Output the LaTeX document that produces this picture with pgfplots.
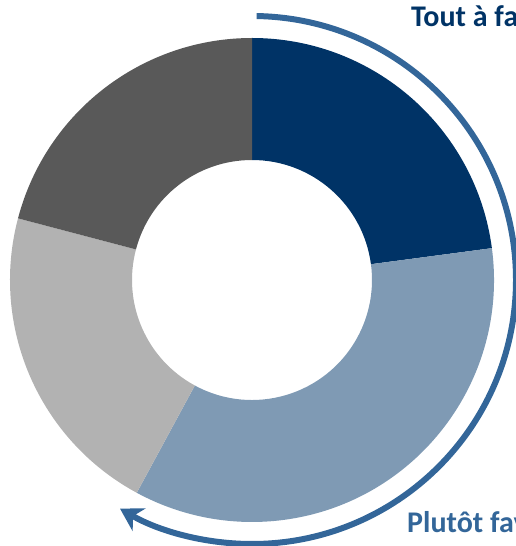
\documentclass[border=0pt]{standalone}
\usepackage{pgfplots}
\usepackage{pgfplotstable}
\pgfplotsset{compat=1.18}
\usepackage{fontspec}
\setmainfont{Carlito}
\usetikzlibrary{arrows.meta}
\definecolor{c1}{HTML}{003366}
\definecolor{c2}{HTML}{7F9AB4}
\definecolor{c3}{HTML}{B2B2B2}
\definecolor{c4}{HTML}{595959}
\definecolor{arr}{HTML}{336699}
\pgfplotstableread{
label value color
A 22.9 c1
B 35.0 c2
C 21.2 c3
D 20.9 c4
}\piedata
\begin{document}
\begin{tikzpicture}
\begin{axis}[x=1pt,y=1pt,xmin=0,xmax=515,ymin=0,ymax=546,hide axis,clip=false]
\pgfplotstablegetrowsof{\piedata}
\pgfmathtruncatemacro\N{\pgfplotsretval-1}
\def\cum{0}
\pgfplotsforeachungrouped \i in {0,...,\N}{%
  \pgfplotstablegetelem{\i}{value}\of\piedata \let\v\pgfplotsretval
  \pgfplotstablegetelem{\i}{color}\of\piedata \let\c\pgfplotsretval
  \pgfmathsetmacro\a{90-3.6*\cum}%
  \pgfmathsetmacro\b{90-3.6*(\cum+\v)}%
  \edef\temp{\noexpand\fill[\c,shift={(axis cs:252,266)}] (\a:242pt) arc[start angle=\a, end angle=\b, radius=242pt] -- (\b:120pt) arc[start angle=\b, end angle=\a, radius=120pt] -- cycle;}%
  \temp
  \pgfmathsetmacro\cum{\cum+\v}%
}
\draw[arr,line width=6pt,-{Stealth[length=22pt,width=26pt,inset=7pt]},shift={(axis cs:252,266)}] (89:264pt) arc[start angle=89,end angle=-120,radius=264pt];
\node[anchor=base west,text=c1,font=\fontsize{30}{34}\selectfont\bfseries,inner sep=0pt] at (axis cs:411,519) {Tout à fait favorable};
\node[anchor=base west,text=arr,font=\fontsize{30}{34}\selectfont\bfseries,inner sep=0pt] at (axis cs:407,13) {Plutôt favorable};
\end{axis}
\pgfresetboundingbox
\path[use as bounding box] (0,0) rectangle (515pt,546pt);
\end{tikzpicture}
\end{document}
